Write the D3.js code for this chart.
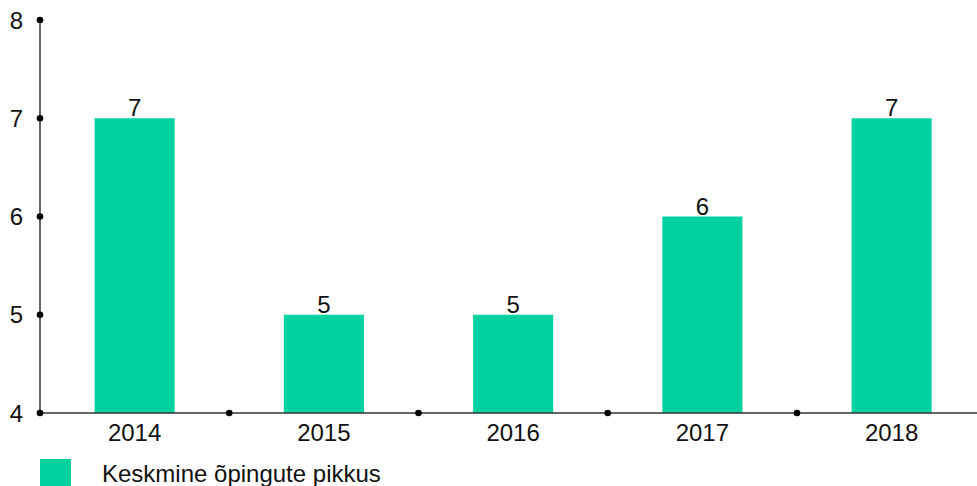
<!DOCTYPE html>
<html><head><meta charset="utf-8">
<script src="https://cdn.jsdelivr.net/npm/d3@7"></script>
<style>body{margin:0;background:#fff;}svg{display:block;font-family:"Liberation Sans",Arial,sans-serif;}</style>
</head><body><svg id="c" width="977" height="486"></svg>
<script>
const categories = ["2014","2015","2016","2017","2018"];
const values = [7,5,5,6,7];
const yTicks = [4,5,6,7,8];
const seriesName = "Keskmine õpingute pikkus";
const color = "#00d1a0";

const svg = d3.select("#c");
const x0 = 40, x1 = 986.25, yTop = 20, yBot = 413;
const x = d3.scaleBand().domain(categories).range([x0, x1]).paddingInner(0.577).paddingOuter(0.2885);
const y = d3.scaleLinear().domain([4,8]).range([yBot, yTop]);

svg.selectAll("rect.bar").data(values).join("rect").attr("class","bar")
  .attr("x",(d,i)=>x(categories[i])).attr("width",x.bandwidth())
  .attr("y",d=>y(d)).attr("height",d=>y(4)-y(d)).attr("fill",color);

// axes lines
svg.append("line").attr("x1",x0).attr("x2",977).attr("y1",yBot).attr("y2",yBot).attr("stroke","#333").attr("stroke-width",1.5);
svg.append("line").attr("x1",x0).attr("x2",x0).attr("y1",yTop).attr("y2",yBot).attr("stroke","#333").attr("stroke-width",1.5);

// y ticks
svg.selectAll("circle.yt").data(yTicks).join("circle").attr("class","yt")
  .attr("cx",x0).attr("cy",d=>y(d)).attr("r",3.3).attr("fill","#000");
svg.selectAll("text.yl").data(yTicks).join("text").attr("class","yl")
  .attr("x",23).attr("y",d=>y(d)).attr("dy","0.36em").attr("text-anchor","end")
  .attr("font-size",24).attr("fill","#111").text(d=>d);

// x boundary dots
const step = x.step();
const bounds = categories.slice(1).map(c=>x(c)-(step-x.bandwidth())/2);
svg.selectAll("circle.xt").data(bounds).join("circle").attr("class","xt")
  .attr("cx",d=>d).attr("cy",yBot).attr("r",3.3).attr("fill","#000");
svg.selectAll("text.xl").data(categories).join("text").attr("class","xl")
  .attr("x",d=>x(d)+x.bandwidth()/2).attr("y",yBot+28).attr("text-anchor","middle")
  .attr("font-size",24).attr("fill","#111").text(d=>d);

// value labels
svg.selectAll("text.vl").data(values).join("text").attr("class","vl")
  .attr("x",(d,i)=>x(categories[i])+x.bandwidth()/2).attr("y",d=>y(d)-2).attr("text-anchor","middle")
  .attr("font-size",24).attr("fill","#111").text(d=>d);

// legend
svg.append("rect").attr("x",40).attr("y",459).attr("width",31).attr("height",28).attr("fill",color);
svg.append("text").attr("x",102).attr("y",482).attr("font-size",24).attr("fill","#111").text(seriesName);
</script></body></html>
